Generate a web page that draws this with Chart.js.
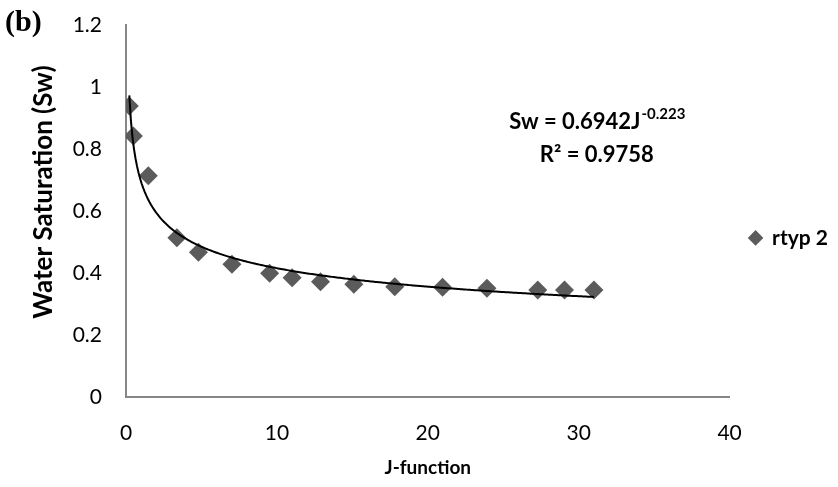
<!DOCTYPE html>
<html>
<head>
<meta charset="utf-8">
<script src="https://cdn.jsdelivr.net/npm/chart.js@4/dist/chart.umd.min.js"></script>
<style>
  html, body { margin: 0; padding: 0; background: #fff; }
  #wrap { width: 838px; height: 487px; }
</style>
</head>
<body>
<div id="wrap"><canvas id="swChart"></canvas></div>
<script>
// J-function vs Sw, rock type 2
var jValues  = [0.22, 0.49, 1.48, 3.37, 4.80, 7.02, 9.52, 11.01, 12.89, 15.10, 17.81, 20.98, 23.92, 27.29, 29.06, 31.01];
var swValues = [0.939, 0.842, 0.714, 0.514, 0.467, 0.428, 0.399, 0.385, 0.372, 0.364, 0.356, 0.354, 0.351, 0.345, 0.345, 0.345];
var seriesName = 'rtyp 2';
var xTicks = [0, 10, 20, 30, 40];
var yTicks = [0, 0.2, 0.4, 0.6, 0.8, 1, 1.2];

// power trend line fitted in the original figure
var fitA = 0.6942;
var fitB = -0.223;
var fitR2 = 0.9758;

var points = jValues.map(function(j, i){ return { x: j, y: swValues[i] }; });

var FONT = 'Lato, "Open Sans", sans-serif';

// trend curve, drawn through the chart scales
var trendLine = {
	id: 'trendLine',
	afterDatasetsDraw: function(chart){
		var xs = chart.scales.x, ys = chart.scales.y, ctx = chart.ctx;
		var x0 = jValues[0], x1 = jValues[jValues.length - 1];
		ctx.save();
		ctx.beginPath();
		for (var i = 0; i <= 300; i++) {
			var j = x0 + (x1 - x0) * i / 300;
			var px = xs.getPixelForValue(j);
			var py = ys.getPixelForValue(fitA * Math.pow(j, fitB));
			if (i === 0) ctx.moveTo(px, py); else ctx.lineTo(px, py);
		}
		ctx.strokeStyle = '#000';
		ctx.lineWidth = 2;
		ctx.stroke();
		ctx.restore();
	}
};

// equation label + panel letter
var labels = {
	id: 'labels',
	afterDraw: function(chart){
		var xs = chart.scales.x, ys = chart.scales.y, ctx = chart.ctx;
		var cx = xs.getPixelForValue(31.2);
		ctx.save();
		ctx.fillStyle = '#000';
		ctx.textBaseline = 'middle';

		// line 1: Sw = 0.6942J^-0.223
		var main = 'Sw = ' + fitA + 'J';
		var sup = String(fitB);
		ctx.font = 'bold 22px ' + FONT;
		var wMain = ctx.measureText(main).width;
		ctx.font = 'bold 15px ' + FONT;
		var wSup = ctx.measureText(sup).width;
		var left = cx - (wMain + wSup) / 2;
		var y1 = ys.getPixelForValue(0.887);
		ctx.textAlign = 'left';
		ctx.font = 'bold 22px ' + FONT;
		ctx.fillText(main, left, y1);
		ctx.font = 'bold 15px ' + FONT;
		ctx.fillText(sup, left + wMain + 1, y1 - 8);

		// line 2: R² = 0.9758
		ctx.font = 'bold 22px ' + FONT;
		ctx.textAlign = 'center';
		ctx.fillText('R\u00B2 = ' + fitR2, cx, ys.getPixelForValue(0.78));

		// (b)
		ctx.textAlign = 'left';
		ctx.font = 'bold 30px "Liberation Serif", "DejaVu Serif", serif';
		ctx.fillText('(b)', 5, 23);
		ctx.restore();
	}
};

var ctx = document.getElementById('swChart').getContext('2d');
var swChart = new Chart(ctx, {
	type : 'scatter',
	data : {
		datasets : [ {
			label : seriesName,
			data : points,
			pointStyle : 'rectRot',
			pointRadius : 9.5,
			pointHoverRadius : 9.5,
			backgroundColor : '#5b5b5b',
			borderColor : '#5b5b5b',
			borderWidth : 0
		} ]
	},
	options : {
		responsive : true,
		maintainAspectRatio : false,
		animation : false,
		layout : { padding : { top : 25, right : 0, bottom : 0, left : 0 } },
		scales : {
			x : {
				type : 'linear',
				min : xTicks[0],
				max : xTicks[xTicks.length - 1],
				afterBuildTicks : function(scale){ scale.ticks = xTicks.map(function(v){ return { value : v }; }); },
				afterFit : function(scale){ scale.height = 90; },
				// invisible tick marks give the label gap without padding the plot area
				grid : { display : true, drawOnChartArea : false, drawTicks : true, tickLength : 24, color : 'rgba(0,0,0,0)' },
				border : { color : '#868686', width : 2 },
				ticks : { padding : 0, color : '#000', font : { family : FONT, size : 21 } },
				title : {
					display : true, text : 'J-function', color : '#000',
					font : { family : FONT, size : 19, weight : 'bold' },
					padding : { top : 0, bottom : 8 }
				}
			},
			y : {
				type : 'linear',
				min : yTicks[0],
				max : yTicks[yTicks.length - 1],
				afterBuildTicks : function(scale){ scale.ticks = yTicks.map(function(v){ return { value : v }; }); },
				afterFit : function(scale){ scale.width = 126; },
				grid : { display : true, drawOnChartArea : false, drawTicks : true, tickLength : 24, color : 'rgba(0,0,0,0)' },
				border : { color : '#868686', width : 2 },
				ticks : {
					padding : 0, color : '#000', font : { family : FONT, size : 21 },
					callback : function(v){ return String(Math.round(v * 10) / 10); }
				},
				title : {
					display : true, text : '      Water Saturation (Sw)', color : '#000',
					font : { family : FONT, size : 26, weight : 'bold' },
					padding : { top : 28, bottom : 0 }
				}
			}
		},
		plugins : {
			legend : {
				position : 'right',
				fullSize : false,
				title : { display : true, text : ' ', font : { size : 4 }, padding : { top : 49, bottom : 0 } },
				labels : {
					usePointStyle : true,
					pointStyle : 'rectRot',
					boxWidth : 12,
					boxHeight : 11,
					padding : 20,
					color : '#000',
					font : { family : FONT, size : 21, weight : 'bold' }
				}
			},
			tooltip : { enabled : false }
		}
	},
	plugins : [ trendLine, labels ]
});
</script>
</body>
</html>
